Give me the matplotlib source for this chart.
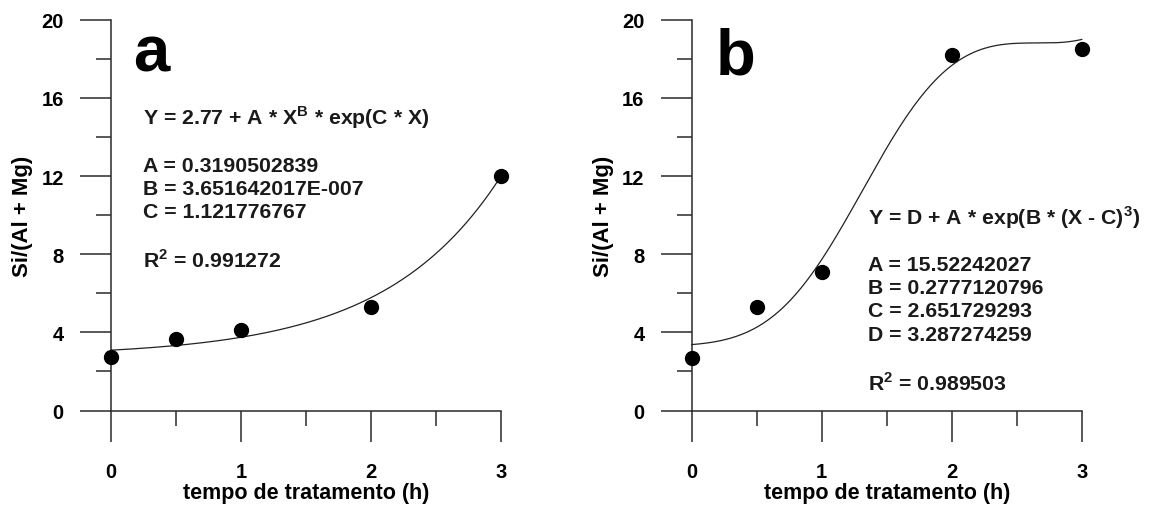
import numpy as np
import matplotlib
matplotlib.use('Agg')
import matplotlib.pyplot as plt
from matplotlib.ticker import MultipleLocator

plt.rcParams['font.family'] = ['Liberation Sans', 'DejaVu Sans']
plt.rcParams['font.weight'] = 'bold'
plt.rcParams['mathtext.fontset'] = 'custom'
plt.rcParams['mathtext.rm'] = 'Liberation Sans:bold'
plt.rcParams['mathtext.bf'] = 'Liberation Sans:bold'

# measured points
time_h = [0, 0.5, 1, 2, 3]
ratio_a = [2.75, 3.65, 4.1, 5.3, 12.0]
ratio_b = [2.7, 5.3, 7.1, 18.2, 18.5]

# fitted parameters as printed on the figure
fit_a = {'A': 0.3190502839, 'B': 3.651642017e-7, 'C': 1.121776767, 'R2': 0.991272}
fit_b = {'A': 15.52242027, 'B': 0.2777120796, 'C': 2.651729293, 'D': 3.287274259, 'R2': 0.989503}

x_ticks = [0, 1, 2, 3]
y_ticks = [0, 4, 8, 12, 16, 20]

AXIS_COLOR = '#2a2a2a'


def curve_a(x):
    return 2.77 + fit_a['A'] * x ** fit_a['B'] * np.exp(fit_a['C'] * x)


def curve_b(x):
    return fit_b['D'] + fit_b['A'] * np.exp(fit_b['B'] * (x - fit_b['C']) ** 3)


def style_axes(ax):
    ax.set_xlim(0, 3)
    ax.set_ylim(0, 20)
    for side in ('top', 'right'):
        ax.spines[side].set_visible(False)
    for side in ('left', 'bottom'):
        ax.spines[side].set_linewidth(1.1)
        ax.spines[side].set_color(AXIS_COLOR)
    ax.set_xticks(x_ticks)
    ax.set_yticks(y_ticks)
    ax.xaxis.set_minor_locator(MultipleLocator(0.5))
    ax.yaxis.set_minor_locator(MultipleLocator(2))
    ax.tick_params(which='major', direction='out', length=22, width=1.1,
                   color=AXIS_COLOR, labelsize=14.5)
    ax.tick_params(which='minor', direction='out', length=11, width=1.1,
                   color=AXIS_COLOR)
    ax.tick_params(axis='y', which='major', pad=12)
    ax.tick_params(axis='x', which='major', pad=15)
    ax.set_xlabel('tempo de tratamento (h)', fontsize=15.5, fontweight='bold', labelpad=1)
    ax.set_ylabel('Si/(Al + Mg)', fontsize=16, fontweight='bold', labelpad=6)


fig = plt.figure(figsize=(11.49, 5.06), dpi=100)
ax_a = fig.add_axes([0.0966, 0.1867, 0.3395, 0.7723])
ax_b = fig.add_axes([0.6020, 0.1867, 0.3395, 0.7723])

txt = dict(fontsize=15.3, fontweight='bold', color='#1a1a1a', va='baseline', ha='left')

# panel a
xs = np.linspace(1e-4, 3, 300)
style_axes(ax_a)
ax_a.plot(xs, curve_a(xs), color='#222222', lw=0.9, clip_on=False)
ax_a.plot(time_h, ratio_a, 'o', color='black', ms=10, clip_on=False, zorder=5)
ax_a.text(0.17, 17.4, 'a', fontsize=47, fontweight='bold', va='baseline')
ax_a.text(0.245, 14.68, r'Y = 2.77 + A * X$^{\mathrm{B}}$ * exp(C * X)', **txt)
ax_a.text(0.245, 12.24, 'A = %.10f' % fit_a['A'], **txt)
ax_a.text(0.245, 11.10, 'B = 3.651642017E-007', **txt)
ax_a.text(0.245, 9.93, 'C = %.9f' % fit_a['C'], **txt)
ax_a.text(0.245, 7.38, r'R$^{\mathrm{2}}$ = %.6f' % fit_a['R2'], **txt)

# panel b
xs = np.linspace(0, 3, 300)
style_axes(ax_b)
ax_b.plot(xs, curve_b(xs), color='#222222', lw=0.9, clip_on=False)
ax_b.plot(time_h, ratio_b, 'o', color='black', ms=10, clip_on=False, zorder=5)
ax_b.text(0.185, 17.25, 'b', fontsize=47, fontweight='bold', va='baseline')
ax_b.text(1.356, 9.57, r'Y = D + A * exp(B * (X - C)$^{\mathrm{3}}$)', **txt)
ax_b.text(1.356, 7.19, 'A = %.8f' % fit_b['A'], **txt)
ax_b.text(1.356, 6.00, 'B = %.10f' % fit_b['B'], **txt)
ax_b.text(1.356, 4.82, 'C = %.9f' % fit_b['C'], **txt)
ax_b.text(1.356, 3.61, 'D = %.9f' % fit_b['D'], **txt)
ax_b.text(1.356, 1.06, r'R$^{\mathrm{2}}$ = %.6f' % fit_b['R2'], **txt)

fig.savefig('out.png', dpi=100)
